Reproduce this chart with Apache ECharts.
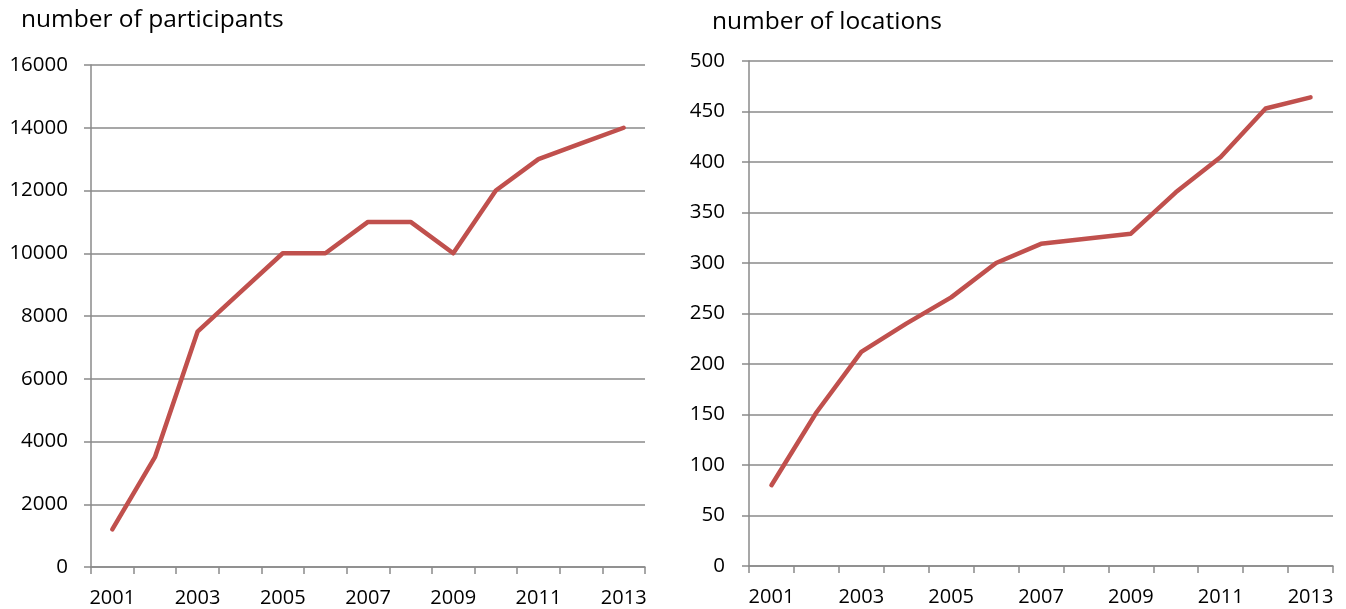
<!DOCTYPE html>
<html>
<head>
<meta charset="utf-8">
<script src="https://cdn.jsdelivr.net/npm/echarts@6/dist/echarts.min.js"></script>
<style>
  html, body { margin: 0; padding: 0; background: #fff; }
  #chart { width: 1346px; height: 609px; }
</style>
</head>
<body>
<div id="chart"></div>
<script>
// data
const years = ["2001", "2002", "2003", "2004", "2005", "2006", "2007", "2008", "2009", "2010", "2011", "2012", "2013"];
const participants = [1200, 3500, 7500, 8750, 10000, 10000, 11000, 11000, 10000, 12000, 13000, 13500, 14000];
const locations = [80, 152, 212, 240, 266, 300, 319, 324, 329, 370, 405, 453, 464];

const font = "Open Sans";
const gray = "#8a8a8a";
const red = "#C0504D";

const chart = echarts.init(document.getElementById("chart"), null, { renderer: "canvas" });

// shared axis styles
const xAxisBase = {
  type: "category",
  data: years,
  boundaryGap: true,
  axisLine: { lineStyle: { color: gray, width: 1.5 } },
  axisTick: { show: true, interval: 0, length: 7, lineStyle: { color: gray, width: 1.5 } },
  axisLabel: { interval: 1, color: "#000", fontSize: 20, fontFamily: font, margin: 21 }
};
const yAxisBase = {
  type: "value",
  axisLine: { show: true, lineStyle: { color: gray, width: 1.5 } },
  axisTick: { show: true, length: 7, lineStyle: { color: gray, width: 1.5 } },
  splitLine: { lineStyle: { color: gray, width: 1.5 } },
  axisLabel: { color: "#000", fontSize: 20.5, fontFamily: font, formatter: v => String(v) }
};

const option = {
  backgroundColor: "#fff",
  animation: false,
  title: [
    {
      text: "number of participants",
      left: 21, top: 8, padding: 0,
      textStyle: { fontSize: 24.5, fontWeight: "normal", color: "#000", fontFamily: font }
    },
    {
      text: "number of locations",
      left: 712, top: 10, padding: 0,
      textStyle: { fontSize: 24.5, fontWeight: "normal", color: "#000", fontFamily: font }
    }
  ],
  grid: [
    { left: 91, right: 1346 - 645, top: 65, bottom: 609 - 567 },
    { left: 749, right: 1346 - 1333, top: 61, bottom: 609 - 566 }
  ],
  xAxis: [
    Object.assign({ gridIndex: 0 }, xAxisBase),
    Object.assign({ gridIndex: 1 }, xAxisBase)
  ],
  yAxis: [
    Object.assign({}, yAxisBase, {
      gridIndex: 0, min: 0, max: 16000, interval: 2000,
      axisLabel: Object.assign({}, yAxisBase.axisLabel, { margin: 23 })
    }),
    Object.assign({}, yAxisBase, {
      gridIndex: 1, min: 0, max: 500, interval: 50,
      axisLabel: Object.assign({}, yAxisBase.axisLabel, { margin: 24 })
    })
  ],
  series: [
    {
      name: "participants",
      type: "line",
      xAxisIndex: 0, yAxisIndex: 0,
      data: participants,
      showSymbol: false,
      lineStyle: { color: red, width: 4.5, cap: "round", join: "round" }
    },
    {
      name: "locations",
      type: "line",
      xAxisIndex: 1, yAxisIndex: 1,
      data: locations,
      showSymbol: false,
      lineStyle: { color: red, width: 4.5, cap: "round", join: "round" }
    }
  ]
};

chart.setOption(option);
</script>
</body>
</html>
